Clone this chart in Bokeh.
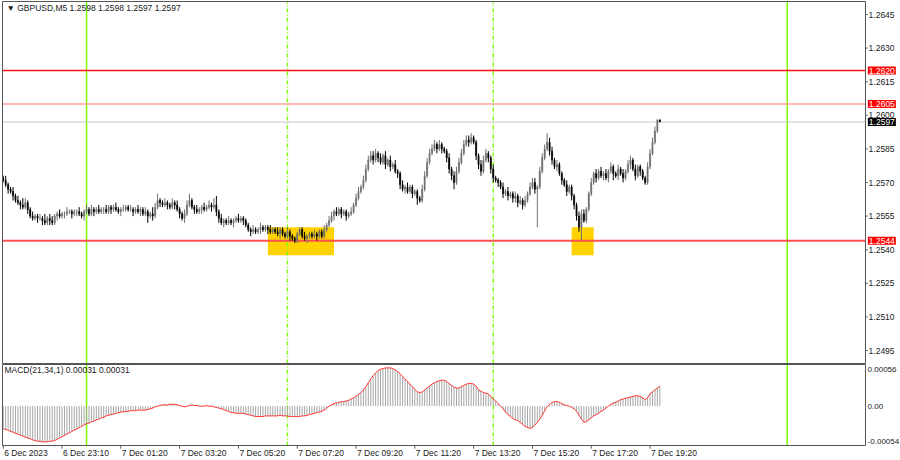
import numpy as np
from bokeh.plotting import figure
from bokeh.models import Label, Range1d
from bokeh.core.properties import value
from bokeh.embed import file_html
from bokeh.resources import INLINE

FONT = "Liberation Sans"

# ---- GBPUSD M5 bars (bar index 0 = 6 Dec 21:10) ----
first_open = 1.2572
close = [
    1.2571, 1.2569, 1.2567, 1.2566, 1.2564, 1.2562, 1.2561, 1.2560, 1.2559, 1.2561,
    1.2558, 1.2555, 1.2554, 1.2555, 1.2554, 1.2554, 1.2553, 1.2552, 1.2554, 1.2553,
    1.2552, 1.2555, 1.2556, 1.2555, 1.2556, 1.2556, 1.2557, 1.2557, 1.2556, 1.2557,
    1.2557, 1.2556, 1.2555, 1.2557, 1.2558, 1.2556, 1.2558, 1.2557, 1.2558, 1.2557,
    1.2558, 1.2558, 1.2557, 1.2559, 1.2558, 1.2559, 1.2558, 1.2557, 1.2558, 1.2558,
    1.2559, 1.2558, 1.2558, 1.2557, 1.2558, 1.2557, 1.2558, 1.2556, 1.2557, 1.2555,
    1.2556, 1.2555, 1.2559, 1.2562, 1.2561, 1.2560, 1.2561, 1.2560, 1.2559, 1.2561,
    1.2560, 1.2558, 1.2556, 1.2554, 1.2556, 1.2560, 1.2562, 1.2559, 1.2558, 1.2557,
    1.2558, 1.2559, 1.2558, 1.2559, 1.2560, 1.2559, 1.2560, 1.2557, 1.2554, 1.2552,
    1.2553, 1.2552, 1.2553, 1.2552, 1.2553, 1.2554, 1.2553, 1.2554, 1.2553, 1.2551,
    1.2549, 1.2548, 1.2549, 1.2548, 1.2549, 1.2550, 1.2549, 1.2550, 1.2549, 1.2548,
    1.2549, 1.2548, 1.2547, 1.2549, 1.2547, 1.2546, 1.2548, 1.2546, 1.2545, 1.2544,
    1.2547, 1.2549, 1.2546, 1.2545, 1.2546, 1.2547, 1.2546, 1.2547, 1.2546, 1.2548,
    1.2546, 1.2549, 1.2551, 1.2553, 1.2555, 1.2557, 1.2556, 1.2558, 1.2556, 1.2557,
    1.2555, 1.2556, 1.2557, 1.2560, 1.2563, 1.2566, 1.2568, 1.2571, 1.2576, 1.2580,
    1.2582, 1.2580, 1.2583, 1.2581, 1.2579, 1.2582, 1.2578, 1.2580, 1.2577, 1.2578,
    1.2575, 1.2574, 1.2569, 1.2567, 1.2568, 1.2566, 1.2568, 1.2565, 1.2566, 1.2563,
    1.2562, 1.2567, 1.2573, 1.2579, 1.2583, 1.2585, 1.2587, 1.2585, 1.2587, 1.2585,
    1.2584, 1.2581, 1.2576, 1.2573, 1.2570, 1.2575, 1.2579, 1.2583, 1.2587, 1.2589,
    1.2588, 1.2590, 1.2588, 1.2582, 1.2578, 1.2575, 1.2580, 1.2583, 1.2581, 1.2576,
    1.2572, 1.2571, 1.2570, 1.2568, 1.2565, 1.2566, 1.2564, 1.2565, 1.2563, 1.2564,
    1.2561, 1.2562, 1.2560, 1.2562, 1.2565, 1.2568, 1.2570, 1.2567, 1.2568, 1.2575,
    1.2581, 1.2585, 1.2588, 1.2584, 1.2580, 1.2577, 1.2578, 1.2574, 1.2571, 1.2569,
    1.2566, 1.2568, 1.2564, 1.2560, 1.2555, 1.2550, 1.2556, 1.2553, 1.2558, 1.2565,
    1.2570, 1.2574, 1.2572, 1.2575, 1.2573, 1.2574, 1.2572, 1.2575, 1.2577, 1.2574,
    1.2573, 1.2576, 1.2574, 1.2572, 1.2575, 1.2578, 1.2580, 1.2576, 1.2573, 1.2577,
    1.2575, 1.2572, 1.2570, 1.2577, 1.2583, 1.2588, 1.2593, 1.2598, 1.2597,
]
upper_wick_pips = [
    1, 2, 1, 1, 2, 1, 2, 1, 3, 2,
    1, 1, 2, 1, 1, 2, 1, 3, 1, 2,
    2, 1, 1, 2, 1, 1, 2, 1, 1, 1,
    1, 2, 1, 1, 2, 1, 2, 1, 1, 2,
    1, 1, 2, 1, 1, 1, 2, 1, 1, 2,
    1, 1, 2, 1, 1, 2, 1, 1, 2, 1,
    1, 3, 2, 3, 1, 1, 2, 1, 1, 2,
    1, 2, 1, 1, 2, 2, 3, 1, 1, 2,
    1, 1, 2, 1, 2, 1, 3, 4, 1, 2,
    1, 1, 2, 1, 1, 1, 2, 1, 1, 1,
    1, 1, 2, 1, 1, 2, 1, 1, 1, 2,
    1, 1, 2, 1, 1, 1, 2, 1, 1, 1,
    1, 1, 1, 2, 1, 1, 1, 2, 1, 1,
    1, 2, 1, 2, 2, 1, 2, 1, 1, 1,
    1, 1, 2, 1, 2, 2, 1, 2, 2, 2,
    2, 2, 2, 1, 2, 1, 2, 1, 2, 1,
    2, 1, 1, 2, 1, 2, 1, 1, 1, 1,
    1, 2, 2, 2, 2, 2, 2, 1, 2, 1,
    1, 1, 2, 1, 2, 2, 2, 2, 2, 2,
    2, 2, 1, 1, 1, 2, 2, 2, 1, 1,
    2, 1, 1, 1, 2, 1, 2, 1, 1, 2,
    1, 2, 1, 2, 1, 2, 2, 2, 1, 2,
    2, 2, 4, 2, 2, 1, 2, 1, 1, 1,
    2, 1, 1, 1, 1, 2, 2, 2, 1, 1,
    2, 1, 2, 1, 2, 1, 2, 1, 2, 1,
    1, 2, 1, 2, 1, 2, 2, 1, 2, 1,
    1, 1, 1, 2, 2, 2, 2, 0, 0,
]
lower_wick_pips = [
    1, 1, 2, 1, 2, 1, 1, 2, 1, 1,
    2, 1, 1, 1, 2, 1, 2, 1, 1, 2,
    1, 1, 2, 1, 1, 2, 1, 1, 2, 1,
    2, 1, 1, 2, 1, 1, 1, 2, 1, 1,
    1, 2, 1, 1, 2, 1, 1, 1, 2, 1,
    1, 1, 1, 2, 1, 1, 2, 1, 1, 3,
    1, 2, 1, 1, 2, 1, 1, 2, 1, 1,
    2, 1, 2, 1, 2, 1, 1, 1, 2, 1,
    1, 2, 1, 1, 1, 2, 1, 2, 2, 1,
    2, 1, 1, 1, 2, 1, 1, 1, 2, 1,
    1, 2, 1, 1, 1, 2, 1, 1, 2, 1,
    1, 1, 1, 2, 1, 1, 1, 2, 1, 1,
    1, 1, 1, 1, 2, 1, 1, 1, 2, 1,
    1, 1, 1, 1, 1, 2, 1, 1, 2, 1,
    2, 1, 1, 1, 1, 1, 1, 1, 1, 1,
    1, 2, 1, 2, 1, 1, 2, 1, 2, 1,
    1, 2, 2, 1, 2, 1, 1, 2, 1, 3,
    1, 1, 1, 1, 1, 1, 1, 2, 1, 2,
    1, 2, 2, 2, 3, 1, 1, 1, 1, 1,
    2, 1, 1, 2, 2, 2, 1, 1, 2, 2,
    2, 1, 2, 1, 2, 1, 2, 1, 2, 2,
    2, 1, 2, 1, 1, 1, 1, 2, 17, 1,
    1, 1, 1, 2, 2, 1, 2, 1, 2, 1,
    2, 1, 2, 2, 2, 2, 6, 1, 1, 1,
    1, 1, 2, 1, 1, 2, 1, 2, 1, 3,
    1, 2, 1, 2, 1, 1, 2, 1, 2, 1,
    2, 1, 1, 1, 1, 1, 1, 1, 0,
]
# MACD(21,34,1) main value per bar, in units of 0.00001
macd_e5 = [
    -35, -36, -37, -39, -40, -42, -43, -45, -46, -48,
    -49, -50, -52, -53, -54, -54, -55, -55, -55, -54,
    -54, -53, -51, -49, -47, -45, -43, -41, -39, -37,
    -35, -33, -31, -29, -27, -26, -24, -23, -21, -20,
    -18, -17, -15, -14, -13, -12, -11, -10, -9, -9,
    -8, -8, -7, -7, -7, -6, -6, -6, -6, -5,
    -4, -3, -1, 0, 1, 2, 2, 2, 3, 3,
    3, 2, 1, 0, -1, 0, 1, 2, 1, 1,
    0, 0, 0, 1, 0, 0, -1, -2, -3, -4,
    -5, -7, -8, -10, -10, -11, -11, -11, -11, -12,
    -13, -14, -15, -16, -16, -16, -16, -15, -15, -15,
    -15, -15, -15, -14, -15, -15, -15, -16, -16, -16,
    -16, -16, -15, -15, -14, -13, -12, -11, -10, -9,
    -8, -6, -3, 0, 2, 4, 5, 6, 7, 7,
    8, 9, 11, 13, 15, 18, 21, 25, 30, 36,
    42, 47, 51, 55, 57, 58, 59, 59, 59, 58,
    56, 53, 50, 46, 42, 38, 34, 30, 26, 22,
    21, 22, 25, 28, 31, 34, 36, 38, 39, 40,
    40, 38, 35, 32, 29, 28, 28, 30, 32, 34,
    35, 35, 34, 31, 25, 23, 21, 20, 19, 15,
    11, 8, 4, 0, -4, -9, -13, -16, -19, -21,
    -22, -25, -28, -31, -33, -34, -33, -29, -25, -20,
    -14, -7, -1, 3, 6, 7, 7, 6, 4, 2,
    1, 0, -2, -4, -8, -14, -20, -25, -24, -21,
    -18, -15, -13, -11, -8, -6, -3, 0, 3, 5,
    6, 8, 10, 11, 12, 13, 14, 15, 16, 16,
    15, 13, 10, 13, 19, 22, 25, 28, 31,
]

level_prices = [1.2620, 1.2605, 1.2544]
level_colors = ["#ff1010", "#ffa0a0", "#ff5050"]
level_widths = [1.5, 1.5, 2]
current_price = 1.2597

zone_start = [108, 232]
zone_end = [135, 241]
zone_top = [1.2550, 1.2550]
zone_bottom = [1.25375, 1.25375]

day_separators = [34, 320]       # 7 Dec 00:00, 8 Dec 00:00
session_marks = [116, 200]       # 7 Dec 07:00, 7 Dec 14:00

time_tick_pos = [0, 24, 48, 72, 96, 120, 144, 168, 192, 216, 240, 264]
time_tick_labels = ["6 Dec 2023", "6 Dec 23:10", "7 Dec 01:20", "7 Dec 03:20",
                    "7 Dec 05:20", "7 Dec 07:20", "7 Dec 09:20", "7 Dec 11:20",
                    "7 Dec 13:20", "7 Dec 15:20", "7 Dec 17:20", "7 Dec 19:20"]
price_ticks = [1.2495, 1.2510, 1.2525, 1.2540, 1.2555, 1.2570, 1.2585,
               1.2600, 1.2615, 1.2630, 1.2645]
macd_ticks = [0.00056, 0.0, -0.00054]
macd_tick_labels = ["0.00056", "0.00", "-0.00054"]

title_text = "\u25BC GBPUSD,M5  1.2598 1.2598 1.2597 1.2597"
macd_text = "MACD(21,34,1) 0.00031  0.00031"

# ---- pane extents (data units) ----
BAR_FIRST, BAR_LAST = -0.3, 351.94            # left / right edge of both panes
PRICE_LO, PRICE_HI = 1.24892, 1.26508          # price pane
MACD_LO, MACD_HI = -0.000606, 0.000642         # macd pane

# ---- derived ----
n = len(close)
idx = np.arange(n)
c = np.array(close)
o = np.array([first_open] + close[:-1])
hi = np.maximum(o, c) + np.array(upper_wick_pips) * 1e-4
lo = np.minimum(o, c) - np.array(lower_wick_pips) * 1e-4
bull = c >= o
bar_col = np.where(bull, "#707070", "#000000")
macd = np.array(macd_e5) * 1e-5

OUT = "#555555"
GREEN = "#7cfc00"
TXT = "#1a1a1a"
FS = "8.5px"
AX_X = 352.9   # where the right-hand scale texts start

p = figure(width=900, height=460, x_range=Range1d(-1.116, 366.23),
           y_range=Range1d(1.24459, 1.265125),
           output_backend="svg", toolbar_location=None,
           x_axis_location=None, y_axis_location=None,
           min_border=0, min_border_left=0, min_border_right=0,
           min_border_top=0, min_border_bottom=0)
p.extra_y_ranges = {"macd": Range1d(-0.000837, 0.006250)}
p.grid.visible = False
p.outline_line_color = None
p.background_fill_color = "white"
p.border_fill_color = "white"

# zones behind everything
p.quad(left=zone_start, right=zone_end, top=zone_top, bottom=zone_bottom,
       fill_color="#ffd200", line_width=0)

# vertical day separators and session marks, in both panes
for locs, dash, lw in ((day_separators, "solid", 1.5), (session_marks, "4 2 1 2", 1.4)):
    p.segment(x0=locs, y0=[PRICE_LO] * len(locs), x1=locs, y1=[PRICE_HI] * len(locs),
              line_color=GREEN, line_width=lw, line_dash=dash)
    p.segment(x0=locs, y0=[MACD_LO] * len(locs), x1=locs, y1=[MACD_HI] * len(locs),
              line_color=GREEN, line_width=lw, line_dash=dash, y_range_name="macd")

# horizontal levels
p.segment(x0=[BAR_FIRST], y0=[current_price], x1=[BAR_LAST], y1=[current_price],
          line_color="#c8c8c8", line_width=1)
p.segment(x0=[BAR_FIRST] * 3, y0=level_prices, x1=[BAR_LAST] * 3, y1=level_prices,
          line_color=level_colors, line_width=level_widths)

# price bars
p.segment(x0=idx, y0=lo, x1=idx, y1=hi, line_color=bar_col, line_width=1)
p.vbar(x=idx, top=np.maximum(o, c), bottom=np.minimum(o, c), width=0.5,
       fill_color=bar_col, line_color=bar_col, line_width=0.5)

# MACD histogram + signal
p.segment(x0=idx, y0=np.zeros(n), x1=idx, y1=macd, line_color="#a6a6a6", line_width=1,
          y_range_name="macd")
p.line(idx, macd, line_color="#ff3535", line_width=1, y_range_name="macd")

# pane borders
p.quad(left=[BAR_FIRST], right=[BAR_LAST], bottom=[PRICE_LO], top=[PRICE_HI],
       fill_color=None, line_color=OUT, line_width=1)
p.quad(left=[BAR_FIRST], right=[BAR_LAST], bottom=[MACD_LO], top=[MACD_HI],
       fill_color=None, line_color=OUT, line_width=1, y_range_name="macd")

# price scale
p.segment(x0=[BAR_LAST] * len(price_ticks), y0=price_ticks,
          x1=[BAR_LAST + 0.9] * len(price_ticks), y1=price_ticks, line_color=OUT, line_width=1)
p.text(x=[AX_X + 0.3] * len(price_ticks), y=price_ticks,
       text=[f"{t:.4f}" for t in price_ticks], text_font=value(FONT),
       text_font_size=FS, text_color=TXT, text_baseline="middle", text_align="left")

for lv in level_prices:
    p.add_layout(Label(x=AX_X, y=lv, text=f"{lv:.4f}", text_font=FONT, text_font_size=FS,
                       text_color="white", text_baseline="middle",
                       background_fill_color="#ff0000", padding=1))
p.add_layout(Label(x=AX_X, y=current_price, text=f"{current_price:.4f}", text_font=FONT,
                   text_font_size=FS, text_color="white", text_baseline="middle",
                   background_fill_color="#000000", padding=1))

# MACD scale
p.text(x=[AX_X - 0.1] * len(macd_ticks), y=macd_ticks, text=macd_tick_labels,
       text_font=value(FONT), text_font_size="8px", text_color=TXT,
       text_baseline="middle", text_align="left", y_range_name="macd")

# time scale
TIME_TICK_BOTTOM = -0.000655
TIME_Y = -0.000716
p.segment(x0=time_tick_pos, y0=[MACD_LO] * len(time_tick_pos), x1=time_tick_pos,
          y1=[TIME_TICK_BOTTOM] * len(time_tick_pos), line_color=OUT, line_width=1,
          y_range_name="macd")
p.text(x=time_tick_pos, y=[TIME_Y] * len(time_tick_pos), text=time_tick_labels,
       text_font=value(FONT), text_font_size=FS, text_color=TXT,
       text_baseline="middle", text_align="left", y_range_name="macd",
       x_offset=1)

# pane captions
p.add_layout(Label(x=1.3, y=1.26481, text=title_text, text_font=FONT,
                   text_font_size=FS, text_color=TXT, text_baseline="middle"))
p.add_layout(Label(x=0.5, y=0.00055, y_range_name="macd", text=macd_text, text_font=FONT,
                   text_font_size=FS, text_color=TXT, text_baseline="middle"))

open("out.html", "w").write(file_html(p, INLINE))
